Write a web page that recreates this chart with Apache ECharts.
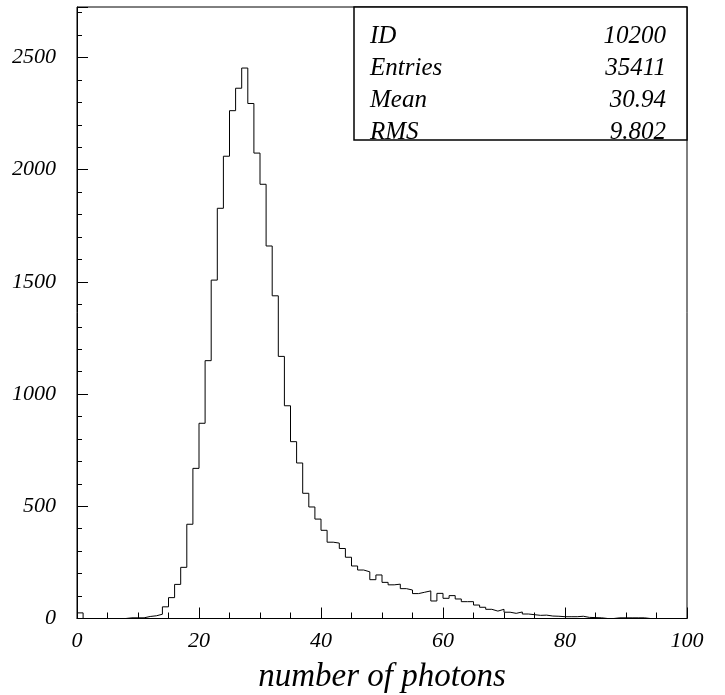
<!DOCTYPE html>
<html>
<head>
<meta charset="utf-8">
<script src="https://cdn.jsdelivr.net/npm/echarts@6/dist/echarts.min.js"></script>
<style>
html,body{margin:0;padding:0;background:#fff;}
#chart{width:725px;height:695px;}
</style>
</head>
<body>
<div id="chart"></div>
<script>
// Histogram: bins of width 1 from 0 to 100
var binStart = 0;
var binWidth = 1;
var counts = [
  25, 0, 0, 0, 0, 0, 0, 0, 3, 3,
  3, 9, 12, 19, 52, 93, 152, 228, 420, 669,
  870, 1149, 1508, 1828, 2060, 2263, 2363, 2453, 2295, 2074,
  1935, 1660, 1438, 1168, 948, 788, 693, 558, 497, 443,
  393, 340, 336, 312, 273, 234, 216, 208, 173, 194,
  161, 150, 153, 133, 127, 111, 117, 123, 78, 112,
  90, 102, 87, 75, 75, 60, 50, 41, 33, 41,
  28, 23, 29, 20, 17, 14, 15, 11, 10, 8,
  8, 8, 10, 5, 4, 3, 0, 0, 3, 3,
  3, 3, 3, 0, 0, 0, 0, 0, 0, 0
];
var xTicks = [0, 20, 40, 60, 80, 100];
var yTicks = [0, 500, 1000, 1500, 2000, 2500];
var statNames = ['ID', 'Entries', 'Mean', 'RMS'];
var statValues = ['10200', '35411', '30.94', '9.802'];
var xTitle = 'number of photons';

var pts = [];
for (var i = 0; i < counts.length; i++) {
  pts.push([binStart + i * binWidth, counts[i]]);
}
pts.push([binStart + counts.length * binWidth, counts[counts.length - 1]]);

var FONT = "'Liberation Serif', 'DejaVu Serif', serif";
var chart = echarts.init(document.getElementById('chart'), null, {renderer: 'canvas'});

var statGraphics = [{
  type: 'rect',
  shape: {x: 354, y: 7, width: 333, height: 133},
  style: {fill: '#fff', stroke: '#000', lineWidth: 1.5},
  z: 100
}];
var rowY = [36, 68, 100, 132];
for (var k = 0; k < statNames.length; k++) {
  statGraphics.push({
    type: 'text', x: 370, y: rowY[k], z: 101,
    style: {text: statNames[k], fontFamily: FONT, fontStyle: 'italic', fontSize: 25, fill: '#000',
            align: 'left', verticalAlign: 'middle'}
  });
  statGraphics.push({
    type: 'text', x: 666, y: rowY[k], z: 101,
    style: {text: statValues[k], fontFamily: FONT, fontStyle: 'italic', fontSize: 25, fill: '#000',
            align: 'right', verticalAlign: 'middle'}
  });
}

chart.setOption({
  animation: false,
  backgroundColor: '#fff',
  grid: {left: 77, right: 38, top: 7, bottom: 76.5, show: true, containLabel: false,
         outerBoundsMode: 'none',
         borderColor: '#000', borderWidth: 1, backgroundColor: 'transparent'},
  xAxis: {
    type: 'value', min: 0, max: 100, interval: 20,
    name: xTitle, nameLocation: 'middle', nameGap: 42,
    nameTextStyle: {fontFamily: FONT, fontStyle: 'italic', fontSize: 33, color: '#000'},
    axisLine: {show: true, lineStyle: {color: '#000', width: 1}},
    axisTick: {show: true, inside: true, length: 11, lineStyle: {color: '#000'}},
    minorTick: {show: true, splitNumber: 4, length: 6, lineStyle: {color: '#000'}},
    axisLabel: {show: true, margin: 12, fontFamily: FONT, fontStyle: 'italic', fontSize: 22, color: '#000',
      formatter: function (v) { return xTicks.indexOf(v) >= 0 ? String(v) : ''; }},
    splitLine: {show: false}
  },
  yAxis: {
    type: 'value', min: 0, max: 2725, interval: 500,
    axisLine: {show: true, lineStyle: {color: '#000', width: 1}},
    axisTick: {show: true, inside: true, length: 11, lineStyle: {color: '#000'}},
    minorTick: {show: true, splitNumber: 5, length: 5, lineStyle: {color: '#000'}},
    axisLabel: {show: true, margin: 21, showMaxLabel: false, fontFamily: FONT, fontStyle: 'italic', fontSize: 22, color: '#000',
      formatter: function (v) { return yTicks.indexOf(v) >= 0 ? String(v) : ''; }},
    splitLine: {show: false}
  },
  series: [{
    type: 'line',
    step: 'end',
    data: pts,
    symbol: 'none',
    lineStyle: {color: '#000', width: 1},
    z: 5
  }],
  graphic: statGraphics
});
</script>
</body>
</html>
